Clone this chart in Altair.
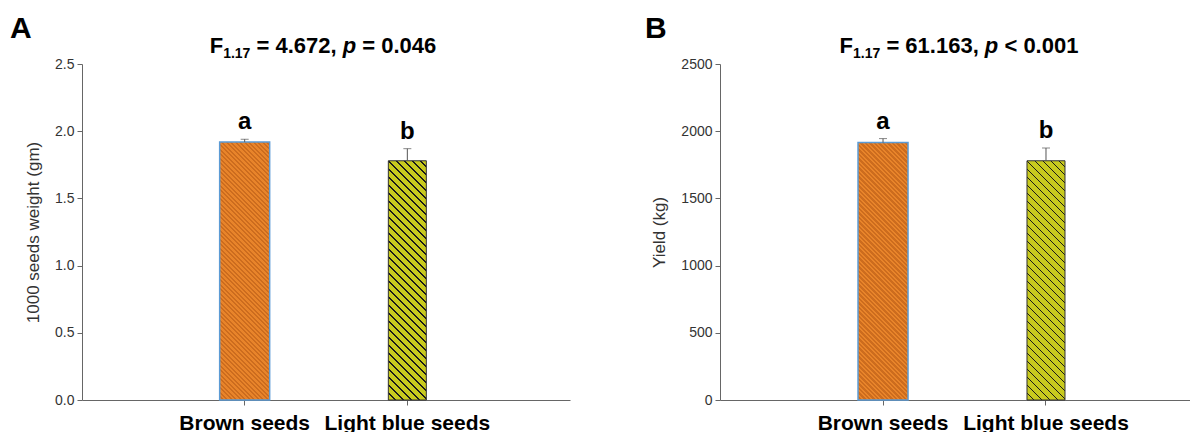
import math
import altair as alt
import pandas as pd

# ---------------- data ----------------
categories = ["Brown seeds", "Light blue seeds"]
weight_means = [1.92, 1.78]
weight_errs = [0.02, 0.09]
yield_means = [1915, 1780]
yield_errs = [30, 95]
sig_letters = ["a", "b"]
panel_letters = ["A", "B"]
stat_A = ["F", "1.17", " = 4.672, ", "p", " = 0.046"]
stat_B = ["F", "1.17", " = 61.163, ", "p", " < 0.001"]
weight_ticks = [0, 0.5, 1.0, 1.5, 2.0, 2.5]
yield_ticks = [0, 500, 1000, 1500, 2000, 2500]

FONT = "Liberation Sans, Arial"

# Arial Bold advance widths (per 1000 em)
BOLD_W = {"F": 611, "1": 556, ".": 278, "7": 556, " ": 278, "=": 584, "4": 556,
          "6": 556, "2": 556, ",": 278, "p": 611, "0": 556, "3": 556, "<": 584}


def text_w(s, size):
    return sum(BOLD_W.get(c, 556) for c in s) * size / 1000.0


def hatch(bg, fg, w, h, period, frac):
    n_f = (w + h) / period
    n = int(math.ceil(n_f))
    stops = []
    for i in range(n):
        o0 = min(i / n_f, 1.0)
        o1 = min((i + 1 - frac) / n_f, 1.0)
        o2 = min((i + 1) / n_f, 1.0)
        stops += [{"offset": o0, "color": bg}, {"offset": o1, "color": bg},
                  {"offset": o1, "color": fg}, {"offset": o2, "color": fg}]
    a = w / h
    k = (a + 1) / (a * a + 1)
    return {"gradient": "linear", "x1": 0, "y1": 1, "x2": k * a, "y2": 1 - k,
            "stops": stops}


BAR_STYLES = [
    # width, bg, stripe, period, stripe fraction, stroke, strokeWidth
    (50, "#e8842a", "#cc6c1e", 4.5, 0.45, "#5b9bd5", 1.5),
    (38, "#c8ca1e", "#1a1a1a", 8.0, 0.24, "#333333", 1.0),
]

MAIN = 22
SUB = 14


def panel(means, errs, ymax, ticks, fmt, ytitle, letter, stat, W, H, po, al,
          title_center, letter_dx):
    df = pd.DataFrame({
        "cat": categories,
        "mean": means,
        "top": [m + e for m, e in zip(means, errs)],
        "sig": sig_letters,
    })
    xax = alt.Axis(title=None, labelAngle=0, labelFont=FONT, labelFontWeight="bold",
                   labelFontSize=21, labelColor="black", tickSize=5, tickColor="#666",
                   domainColor="#666", labelPadding=7, bandPosition=0.5)
    x = alt.X("cat:N", sort=categories,
              scale=alt.Scale(paddingInner=0, paddingOuter=po, align=al), axis=xax)
    yscale = alt.Scale(domain=[0, ymax], nice=False, zero=True)
    yax = alt.Axis(values=ticks, format=fmt, grid=False, titleFont=FONT,
                   titleFontSize=17, titleFontWeight="normal", titleColor="#333",
                   labelFont=FONT, labelFontSize=14, labelColor="#333", tickSize=5,
                   tickColor="#666", domainColor="#666", labelPadding=3,
                   titlePadding=12)
    y_mean = alt.Y("mean:Q", scale=yscale, axis=yax, title=ytitle)
    y_top = alt.Y("top:Q", scale=yscale, axis=yax, title=ytitle)

    base = alt.Chart(df)
    layers = []
    for i, (bw, bg, fg, period, frac, stroke, sw) in enumerate(BAR_STYLES):
        hpx = means[i] / ymax * H
        layers.append(
            base.transform_filter(alt.datum.cat == categories[i])
            .mark_bar(size=bw, fill=hatch(bg, fg, bw, hpx, period, frac),
                      stroke=stroke, strokeWidth=sw)
            .encode(x=x, y=y_mean)
        )
    layers.append(base.mark_rule(color="#555", strokeWidth=1)
                  .encode(x=x, y=y_mean, y2=alt.Y2("top:Q")))
    layers.append(base.mark_tick(color="#555", size=8, thickness=1)
                  .encode(x=x, y=y_top))
    layers.append(base.mark_text(font=FONT, fontSize=24, fontWeight="bold",
                                 baseline="bottom", dy=-5, color="black")
                  .encode(x=x, y=y_top, text="sig:N"))

    # statistical title made of parts (spaces handled as offsets)
    sizes = [MAIN, SUB, MAIN, MAIN, MAIN]
    total = sum(text_w(p, s) for p, s in zip(stat, sizes))
    cur = title_center - total / 2
    for j, part in enumerate(stat):
        size = sizes[j]
        ypos = -11 + (5 if j == 1 else 0)
        style = "italic" if j == 3 else "normal"
        tokens = part.split(" ")
        for ti, tok in enumerate(tokens):
            if ti > 0:
                cur += text_w(" ", size)
            if tok:
                layers.append(
                    alt.Chart(pd.DataFrame({"t": [tok]}))
                    .mark_text(font=FONT, fontSize=size, fontWeight="bold",
                               fontStyle=style, align="left", baseline="alphabetic",
                               color="black")
                    .encode(text="t:N", x=alt.value(cur), y=alt.value(ypos))
                )
                cur += text_w(tok, size)

    layers.append(
        alt.Chart(pd.DataFrame({"t": [letter]}))
        .mark_text(font=FONT, fontSize=30, fontWeight="bold", align="left",
                   baseline="alphabetic", color="black")
        .encode(text="t:N", x=alt.value(letter_dx), y=alt.value(-26))
    )
    return alt.layer(*layers).properties(width=W, height=H)


H = 336
pA = panel(weight_means, weight_errs, 2.5, weight_ticks, ".1f",
           "1000 seeds weight (gm)", panel_letters[0], stat_A, 488, H, 0.5, 0.5,
           241, -72)
pB = panel(yield_means, yield_errs, 2500, yield_ticks, "d",
           "Yield (kg)", panel_letters[1], stat_B, 470, H, 0.442, 0.566,
           239, -75)

chart = (
    alt.hconcat(pA, pB, spacing=75)
    .properties(padding={"left": 2, "top": 6, "right": 0, "bottom": 0},
                background="white")
    .configure_view(strokeWidth=0, stroke="transparent")
)

chart.save("out.html", embed_options={"renderer": "svg", "actions": False})
